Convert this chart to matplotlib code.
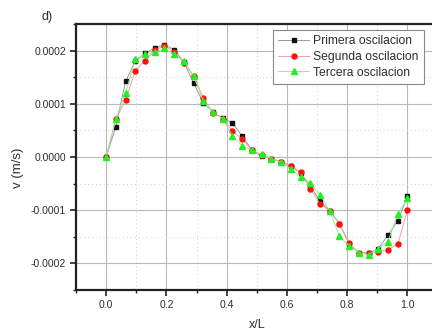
import numpy as np
import matplotlib
matplotlib.use("Agg")
import matplotlib.pyplot as plt
from matplotlib.ticker import MultipleLocator, FuncFormatter

plt.rcParams['font.family'] = ['Liberation Sans', 'DejaVu Sans']

# Station positions along the beam (32 stations, x/L)
x_over_L = np.arange(32) / 31.0

# Transverse velocity v (m/s), in units of 1e-4
primera = [0.0, 0.57, 1.42, 1.80, 1.95, 2.05, 2.11, 2.02, 1.78, 1.39, 1.02,
           0.84, 0.73, 0.64, 0.39, 0.13, 0.01, -0.03, -0.09, -0.17, -0.30,
           -0.54, -0.83, -1.01, -1.25, -1.64, -1.80, -1.81, -1.72, -1.47,
           -1.20, -0.74]
segunda = [0.0, 0.71, 1.07, 1.62, 1.81, 2.01, 2.09, 1.97, 1.77, 1.52, 1.11,
           0.83, 0.72, 0.49, 0.33, 0.13, 0.03, -0.03, -0.09, -0.16, -0.29,
           -0.60, -0.88, -1.01, -1.25, -1.62, -1.80, -1.80, -1.78, -1.74,
           -1.64, -1.00]
tercera = [0.0, 0.72, 1.20, 1.84, 1.93, 1.97, 2.04, 1.93, 1.80, 1.53, 1.05,
           0.84, 0.72, 0.39, 0.21, 0.13, 0.05, -0.03, -0.10, -0.22, -0.38,
           -0.49, -0.71, -1.01, -1.49, -1.67, -1.80, -1.84, -1.72, -1.59,
           -1.07, -0.78]

labels = ["Primera oscilacion", "Segunda oscilacion", "Tercera oscilacion"]
y_ticks = [0.0002, 0.0001, 0.0, -0.0001, -0.0002]
x_ticks = [0.0, 0.2, 0.4, 0.6, 0.8, 1.0]

scale = 1e-4
fig = plt.figure(figsize=(4.32, 3.32), dpi=100)
ax = fig.add_axes([76 / 432, 1 - 290 / 332, (437.6 - 76) / 432, (290 - 24) / 332])

text_col = "#2e2e2e"

ax.plot(x_over_L, np.array(primera) * scale, color="#9a9a9a", lw=0.7,
        marker="s", ms=3.0, mfc="#111111", mec="#111111", label=labels[0], zorder=3)
ax.plot(x_over_L, np.array(segunda) * scale, color="#f4a0a0", lw=0.7,
        marker="o", ms=3.6, mfc="#ff1010", mec="#ff1010", label=labels[1], zorder=4)
ax.plot(x_over_L, np.array(tercera) * scale, color="#9be89b", lw=0.7,
        marker="^", ms=3.9, mfc="#22ee22", mec="#22ee22", label=labels[2], zorder=5)

ax.set_xlim(-0.1, 1.1)
ax.set_ylim(-0.00025, 0.00025)
ax.set_xticks(x_ticks)
ax.set_yticks(y_ticks)
ax.xaxis.set_minor_locator(MultipleLocator(0.1))
ax.yaxis.set_minor_locator(MultipleLocator(0.00005))
ax.xaxis.set_major_formatter(FuncFormatter(lambda v, p: f"{v:.1f}"))
ax.yaxis.set_major_formatter(FuncFormatter(lambda v, p: f"{v:.4f}"))

ax.grid(which="major", color="#b8b8b8", lw=0.8, ls="-", zorder=0)
ax.grid(which="minor", color="#d0d0d0", lw=0.7, ls=(0, (1, 3)), zorder=0)
ax.set_axisbelow(True)

for side in ("left", "bottom", "top"):
    ax.spines[side].set_linewidth(1.6)
    ax.spines[side].set_color("#222222")
ax.spines["right"].set_visible(False)

ax.tick_params(which="major", direction="out", length=4, width=1.2,
               colors="#222222", labelsize=7.5, labelcolor=text_col, pad=3)
ax.tick_params(which="minor", direction="out", length=2.5, width=1.0,
               colors="#222222")

ax.set_xlabel("x/L", fontsize=9, color=text_col, labelpad=7)
ax.set_ylabel("v (m/s)", fontsize=9.5, color=text_col)
ax.yaxis.set_label_coords(-0.145, 0.459)

fig.text(42 / 432, 1 - 17 / 332, "d)", fontsize=9, color=text_col,
         ha="left", va="center")

leg = ax.legend(loc="upper left", bbox_to_anchor=(273 / 432, 1 - 30 / 332),
                bbox_transform=fig.transFigure, fontsize=8.7, frameon=True,
                fancybox=False, edgecolor="#888888", framealpha=1,
                handlelength=2.5, handletextpad=0.4, labelspacing=0.3,
                borderpad=0.45, borderaxespad=0)
leg.get_frame().set_linewidth(0.8)
for t in leg.get_texts():
    t.set_color(text_col)

fig.savefig("out.png", dpi=100)
